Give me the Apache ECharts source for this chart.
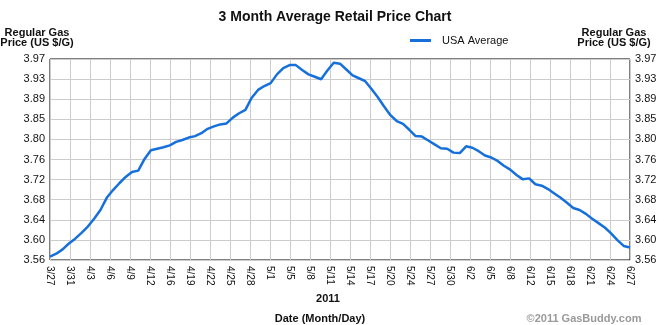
<!DOCTYPE html>
<html>
<head>
<meta charset="utf-8">
<script src="https://cdn.jsdelivr.net/npm/echarts@6/dist/echarts.min.js"></script>
<style>
html,body{margin:0;padding:0;background:#fff;}
#chart{width:670px;height:325px;}
</style>
</head>
<body>
<div id="chart"></div>
<script>
// Daily USA average regular gas price, 3/27/2011 .. 6/27/2011 (day index 0..92)
const usaAverage = [
  3.563,3.569,3.578,3.590,3.600,3.612,3.625,3.641,3.659,3.684,
  3.700,3.714,3.727,3.737,3.740,3.764,3.782,3.785,3.788,3.792,
  3.799,3.803,3.808,3.811,3.817,3.826,3.831,3.835,3.837,3.849,
  3.858,3.865,3.890,3.906,3.914,3.920,3.938,3.951,3.957,3.957,
  3.947,3.938,3.933,3.928,3.946,3.962,3.960,3.948,3.936,3.930,
  3.924,3.908,3.891,3.872,3.854,3.842,3.836,3.824,3.811,3.810,
  3.802,3.794,3.786,3.785,3.777,3.776,3.790,3.787,3.780,3.771,
  3.767,3.760,3.750,3.742,3.731,3.722,3.724,3.712,3.709,3.702,
  3.693,3.684,3.674,3.663,3.659,3.651,3.641,3.632,3.623,3.611,
  3.597,3.585,3.582
];
const xTickLabels = ['3/27','3/31','4/3','4/6','4/9','4/12','4/16','4/19','4/22','4/25',
  '4/28','5/1','5/5','5/8','5/11','5/14','5/17','5/20','5/24','5/27',
  '5/30','6/2','6/5','6/8','6/12','6/15','6/18','6/21','6/24','6/27'];
const seriesName = 'USA Average';
const yStep = 0.04135;          // tick spacing ($/G)
const yMinSteps = 86, yMaxSteps = 96;

const dayCount = usaAverage.length - 1;
const xStep = dayCount / (xTickLabels.length - 1);
const font = '"Liberation Sans", Arial, sans-serif';

const yAxisBase = {
  type: 'value',
  min: yMinSteps * yStep,
  max: yMaxSteps * yStep,
  interval: yStep,
  axisLine: {show: false},
  axisTick: {show: false},
  splitLine: {show: true, lineStyle: {color: '#cccccc', width: 1}},
  axisLabel: {
    margin: 5, color: '#111', fontSize: 11, fontFamily: font,
    formatter: v => v.toFixed(2)
  }
};

const chart = echarts.init(document.getElementById('chart'), null, {renderer: 'canvas'});
chart.setOption({
  animation: false,
  backgroundColor: '#fff',
  grid: {left: 50, right: 40, top: 59, bottom: 65, show: true, borderColor: '#000', borderWidth: 1, backgroundColor: 'transparent'},
  title: {
    text: '3 Month Average Retail Price Chart',
    left: 'center', top: 5,
    textStyle: {fontSize: 14, fontWeight: 'bold', color: '#111', fontFamily: font}
  },
  legend: {
    data: [seriesName],
    left: 410, top: 35, padding: 0,
    icon: 'rect', itemWidth: 21, itemHeight: 3,
    textStyle: {fontSize: 11, color: '#111', fontFamily: font, padding: [0, 0, 0, 6]}
  },
  xAxis: {
    type: 'value', min: 0, max: dayCount, interval: xStep,
    axisLine: {show: false},
    axisTick: {show: false},
    splitLine: {show: true, lineStyle: {color: '#cccccc', width: 1}},
    axisLabel: {
      rotate: -90, margin: 6, fontSize: 10, color: '#111', fontFamily: font,
      formatter: v => xTickLabels[Math.round(v / xStep)] || ''
    }
  },
  yAxis: [
    Object.assign({}, yAxisBase, {position: 'left'}),
    Object.assign({}, yAxisBase, {position: 'right', splitLine: {show: false}})
  ],
  graphic: [
    {type: 'text', x: 37, y: 33, style: {text: 'Regular Gas', font: 'bold 11px ' + font, fill: '#111', textAlign: 'center', textVerticalAlign: 'middle'}},
    {type: 'text', x: 37, y: 43, style: {text: 'Price (US $/G)', font: 'bold 11px ' + font, fill: '#111', textAlign: 'center', textVerticalAlign: 'middle'}},
    {type: 'text', x: 614, y: 33, style: {text: 'Regular Gas', font: 'bold 11px ' + font, fill: '#111', textAlign: 'center', textVerticalAlign: 'middle'}},
    {type: 'text', x: 614, y: 43, style: {text: 'Price (US $/G)', font: 'bold 11px ' + font, fill: '#111', textAlign: 'center', textVerticalAlign: 'middle'}},
    {type: 'text', x: 328, y: 299, style: {text: '2011', font: 'bold 11px ' + font, fill: '#111', textAlign: 'center', textVerticalAlign: 'middle'}},
    {type: 'text', x: 320, y: 319, style: {text: 'Date (Month/Day)', font: 'bold 11px ' + font, fill: '#111', textAlign: 'center', textVerticalAlign: 'middle'}},
    {type: 'text', x: 584, y: 319, style: {text: '©2011 GasBuddy.com', font: 'bold 11px ' + font, fill: '#9a9a9a', textAlign: 'center', textVerticalAlign: 'middle'}}
  ],
  series: [{
    name: seriesName,
    type: 'line',
    yAxisIndex: 0,
    showSymbol: false,
    symbol: 'none',
    color: '#1670dc',
    lineStyle: {color: '#1670dc', width: 2.5},
    data: usaAverage.map((v, i) => [i, v])
  }]
});
</script>
</body>
</html>
